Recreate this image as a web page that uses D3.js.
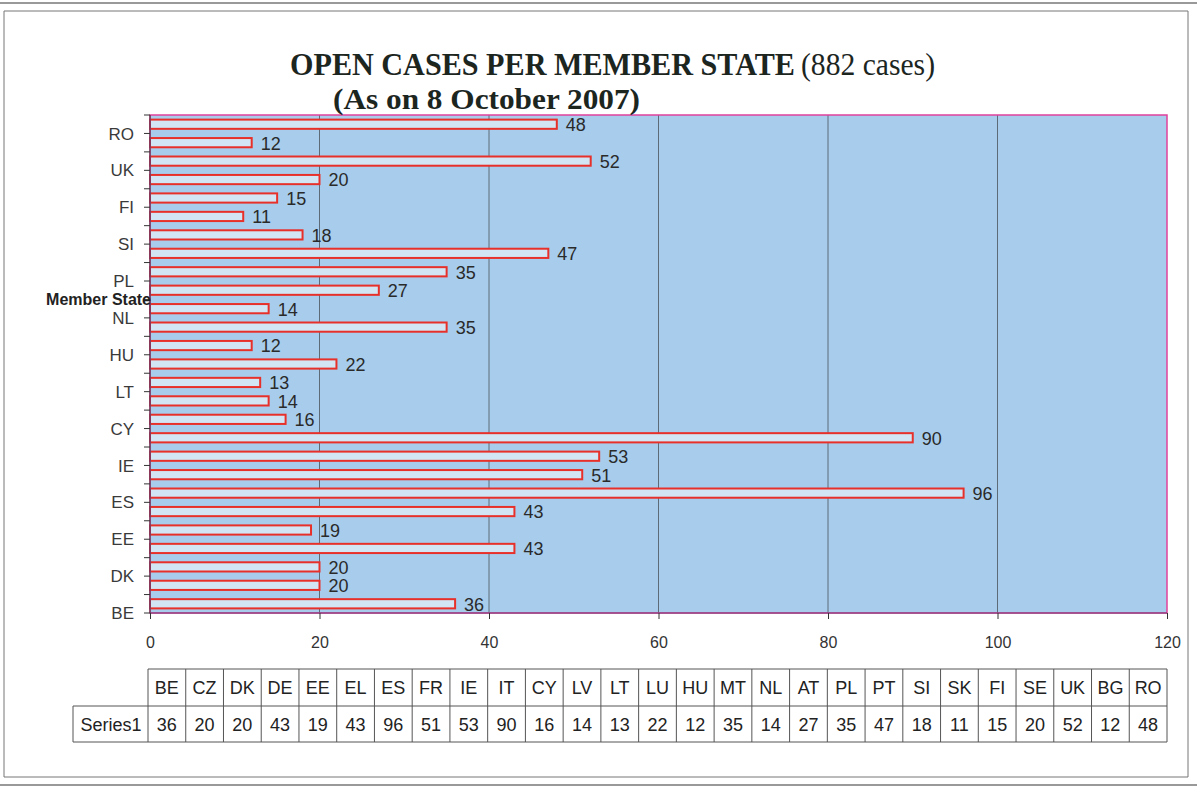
<!DOCTYPE html>
<html>
<head>
<meta charset="utf-8">
<script src="https://cdn.jsdelivr.net/npm/d3@7"></script>
<style>
  body { margin: 0; background: #fff; }
  svg { display: block; }
</style>
</head>
<body>
<svg width="1197" height="787"></svg>
<script>
let categories = ["BE", "CZ", "DK", "DE", "EE", "EL", "ES", "FR", "IE", "IT", "CY", "LV", "LT", "LU",
  "HU", "MT", "NL", "AT", "PL", "PT", "SI", "SK", "FI", "SE", "UK", "BG", "RO"];
let values = [36, 20, 20, 43, 19, 43, 96, 51, 53, 90, 16, 14, 13, 22, 12, 35, 14, 27, 35, 47, 18, 11,
  15, 20, 52, 12, 48];
let xTicks = [0, 20, 40, 60, 80, 100, 120];
let seriesName = "Series1";

let svg = d3.select("svg");
let data = categories.map((c, i) => ({ cat: c, val: values[i] }));

let plotL = 150, plotR = 1167, plotT = 115, plotB = 613;

// page frame lines
let frame = svg.append("g").attr("stroke", "#777").attr("fill", "none");
frame.append("line").attr("x1", 0).attr("x2", 1197).attr("y1", 3).attr("y2", 3).attr("stroke-width", 1.5);
frame.append("line").attr("x1", 4).attr("x2", 1188).attr("y1", 11).attr("y2", 11);
frame.append("line").attr("x1", 4).attr("x2", 4).attr("y1", 11).attr("y2", 777);
frame.append("line").attr("x1", 1188).attr("x2", 1188).attr("y1", 11).attr("y2", 777);
frame.append("line").attr("x1", 4).attr("x2", 1188).attr("y1", 777).attr("y2", 777);
frame.append("line").attr("x1", 0).attr("x2", 1197).attr("y1", 785).attr("y2", 785).attr("stroke-width", 1.5);

let x = d3.scaleLinear().domain([0, 120]).range([plotL, plotR]);
let y = d3.scaleBand()
  .domain(categories.slice().reverse())
  .range([plotT, plotB])
  .paddingInner(0.5)
  .paddingOuter(0.25);
let step = y.step();

// plot background
svg.append("rect")
  .attr("x", plotL).attr("y", plotT)
  .attr("width", plotR - plotL).attr("height", plotB - plotT)
  .attr("fill", "#a8cdec");

// gridlines
svg.append("g")
  .selectAll("line")
  .data(xTicks.filter(t => t > 0 && t < 120))
  .enter()
  .append("line")
  .attr("x1", d => x(d)).attr("x2", d => x(d))
  .attr("y1", plotT).attr("y2", plotB)
  .attr("stroke", "#5d6b78").attr("stroke-width", 1);

// bars
svg.append("g")
  .selectAll("rect")
  .data(data)
  .enter()
  .append("rect")
  .attr("x", x(0))
  .attr("y", d => y(d.cat))
  .attr("width", d => x(d.val) - x(0))
  .attr("height", y.bandwidth())
  .attr("fill", "#d2e5f4")
  .attr("stroke", "#e8302a")
  .attr("stroke-width", 2);

// value labels
svg.append("g")
  .selectAll("text")
  .data(data)
  .enter()
  .append("text")
  .attr("x", d => x(d.val) + 9)
  .attr("y", d => y(d.cat) + y.bandwidth() / 2)
  .attr("dy", "0.38em")
  .attr("font-family", "Liberation Sans, Arial, sans-serif")
  .attr("font-size", 18)
  .attr("fill", "#2a2a2a")
  .text(d => d.val);

// plot border
svg.append("rect")
  .attr("x", plotL).attr("y", plotT)
  .attr("width", plotR - plotL).attr("height", plotB - plotT)
  .attr("fill", "none")
  .attr("stroke", "#e0409c").attr("stroke-width", 1.5);

// axes lines
svg.append("line").attr("x1", plotL).attr("x2", plotL).attr("y1", plotT).attr("y2", plotB)
  .attr("stroke", "#333").attr("stroke-width", 1);
svg.append("line").attr("x1", plotL).attr("x2", plotR).attr("y1", plotB).attr("y2", plotB)
  .attr("stroke", "#6a3a70").attr("stroke-width", 1.2);

// y ticks at slot boundaries
svg.append("g")
  .selectAll("line")
  .data(d3.range(categories.length + 1))
  .enter()
  .append("line")
  .attr("x1", plotL - 6).attr("x2", plotL)
  .attr("y1", i => plotT + i * step).attr("y2", i => plotT + i * step)
  .attr("stroke", "#333");

// y labels, every other category
svg.append("g")
  .selectAll("text")
  .data(categories.filter((c, i) => i % 2 === 0))
  .enter()
  .append("text")
  .attr("x", plotL - 16)
  .attr("y", c => y(c) - step * 0.25 + step)
  .attr("dy", "0.36em")
  .attr("text-anchor", "end")
  .attr("font-family", "Liberation Sans, Arial, sans-serif")
  .attr("font-size", 17)
  .attr("fill", "#3a3a3a")
  .text(c => c);

svg.append("text")
  .attr("x", plotL + 1).attr("y", 305)
  .attr("text-anchor", "end")
  .attr("font-family", "Liberation Sans, Arial, sans-serif")
  .attr("font-size", 16)
  .attr("font-weight", "bold")
  .attr("fill", "#222")
  .text("Member State");

// x axis
let xAxis = svg.append("g")
  .attr("transform", "translate(0," + plotB + ")")
  .call(d3.axisBottom(x).tickValues(xTicks).tickSize(6).tickPadding(18));
xAxis.select(".domain").remove();
xAxis.selectAll("line").attr("stroke", "#333");
xAxis.selectAll("text")
  .attr("font-family", "Liberation Sans, Arial, sans-serif")
  .attr("font-size", 16)
  .attr("fill", "#333");

// title
let titleFont = "Liberation Serif, Times New Roman, serif";
svg.append("text")
  .attr("x", 290).attr("y", 75)
  .attr("font-family", titleFont).attr("font-size", 31).attr("font-weight", "bold")
  .attr("fill", "#1c261f")
  .attr("textLength", 505).attr("lengthAdjust", "spacingAndGlyphs")
  .text("OPEN CASES PER MEMBER STATE");
svg.append("text")
  .attr("x", 801).attr("y", 75)
  .attr("font-family", titleFont).attr("font-size", 31)
  .attr("fill", "#1c261f")
  .attr("textLength", 134).attr("lengthAdjust", "spacingAndGlyphs")
  .text("(882 cases)");
svg.append("text")
  .attr("x", 333).attr("y", 109)
  .attr("font-family", titleFont).attr("font-size", 30).attr("font-weight", "bold")
  .attr("fill", "#1c261f")
  .attr("textLength", 307).attr("lengthAdjust", "spacingAndGlyphs")
  .text("(As on 8 October 2007)");

// data table
let col = d3.scaleBand().domain(categories).range([148, 1167]);
let rowTop = 669, rowMid = 706, rowBot = 742;
let table = svg.append("g").attr("stroke", "#555").attr("stroke-width", 1);
table.append("line").attr("x1", 148).attr("x2", 1167).attr("y1", rowTop).attr("y2", rowTop);
table.append("line").attr("x1", 73).attr("x2", 1167).attr("y1", rowMid).attr("y2", rowMid);
table.append("line").attr("x1", 73).attr("x2", 1167).attr("y1", rowBot).attr("y2", rowBot);
table.append("line").attr("x1", 73).attr("x2", 73).attr("y1", rowMid).attr("y2", rowBot);
table.selectAll(".vline")
  .data(categories.concat(["end"]))
  .enter()
  .append("line")
  .attr("x1", (c, i) => 148 + i * col.step())
  .attr("x2", (c, i) => 148 + i * col.step())
  .attr("y1", rowTop).attr("y2", rowBot);

let cellText = svg.append("g")
  .attr("font-family", "Liberation Sans, Arial, sans-serif")
  .attr("font-size", 18)
  .attr("fill", "#222")
  .attr("text-anchor", "middle");
cellText.selectAll(".hdr")
  .data(categories)
  .enter()
  .append("text")
  .attr("x", c => col(c) + col.bandwidth() / 2)
  .attr("y", 694)
  .text(c => c);
cellText.selectAll(".val")
  .data(data)
  .enter()
  .append("text")
  .attr("x", d => col(d.cat) + col.bandwidth() / 2)
  .attr("y", 731)
  .text(d => d.val);
cellText.append("text")
  .attr("x", 111).attr("y", 731)
  .text(seriesName);
</script>
</body>
</html>
